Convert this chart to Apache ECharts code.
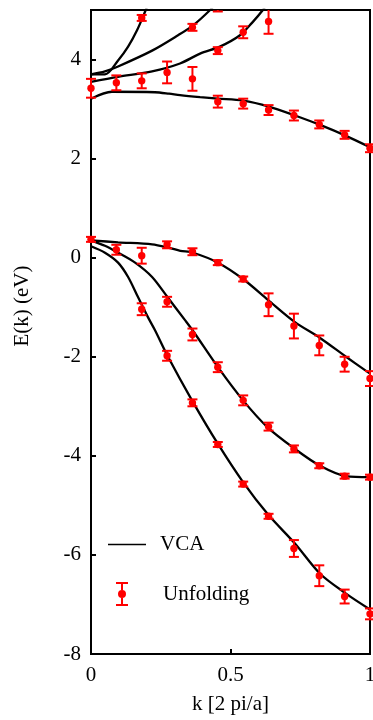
<!DOCTYPE html>
<html><head><meta charset="utf-8">
<script src="https://cdn.jsdelivr.net/npm/echarts@6/dist/echarts.min.js"></script>
<style>html,body{margin:0;padding:0;background:#fff}#c{width:373px;height:720px}</style>
</head><body><div id="c"></div>
<script>
// Axis ticks
const xTicks = [0, 0.5, 1];
const yTicks = [-8, -6, -4, -2, 0, 2, 4];

// VCA bands: k values and energies (eV)
const vcaC4k = [0, 0.05, 0.097, 0.133, 0.165, 0.194, 0.21];
const vcaC4E = [3.70, 3.70, 3.98, 4.26, 4.59, 4.97, 5.2];
const vcaC3k = [0, 0.05, 0.097, 0.219, 0.312, 0.366, 0.427, 0.45];
const vcaC3E = [3.70, 3.76, 3.86, 4.18, 4.49, 4.69, 5.0, 5.15];
const vcaC2k = [0, 0.097, 0.219, 0.319, 0.391, 0.462, 0.534, 0.577, 0.616, 0.64];
const vcaC2E = [3.55, 3.65, 3.76, 3.92, 4.12, 4.26, 4.49, 4.74, 5.0, 5.2];
const vcaC1k = [0, 0.075, 0.229, 0.28, 0.319, 0.391, 0.455, 0.545, 0.638, 0.731, 0.821, 0.914, 1.0];
const vcaC1E = [3.21, 3.35, 3.34, 3.31, 3.28, 3.24, 3.21, 3.17, 3.05, 2.87, 2.68, 2.46, 2.23];
const vcaV1k = [0, 0.097, 0.219, 0.28, 0.32, 0.366, 0.455, 0.545, 0.634, 0.731, 0.821, 0.914, 1.0];
const vcaV1E = [0.35, 0.31, 0.27, 0.20, 0.14, 0.10, -0.10, -0.43, -0.85, -1.30, -1.62, -2.00, -2.34];
const vcaV2k = [0, 0.05, 0.097, 0.158, 0.219, 0.276, 0.337, 0.366, 0.455, 0.545, 0.634, 0.731, 0.821, 0.914, 1.0];
const vcaV2E = [0.35, 0.24, 0.10, -0.10, -0.39, -0.81, -1.26, -1.48, -2.21, -2.88, -3.43, -3.86, -4.20, -4.41, -4.43];
const vcaV3k = [0, 0.05, 0.097, 0.133, 0.168, 0.204, 0.229, 0.276, 0.364, 0.455, 0.545, 0.634, 0.731, 0.821, 0.914, 1.0];
const vcaV3E = [0.23, 0.10, -0.10, -0.39, -0.79, -1.20, -1.46, -2.00, -2.90, -3.76, -4.53, -5.18, -5.77, -6.38, -6.78, -7.10];

// Unfolding points: k grid and per-band energies / error half-widths
const unfK = [0, 0.0909, 0.1818, 0.2727, 0.3636, 0.4545, 0.5455, 0.6364, 0.7273, 0.8182, 0.9091, 1];
const unfC4E = [null, null, 4.84, null, null, null, null, null, null, null, null, null];
const unfC4Err = [null, null, 0.06, null, null, null, null, null, null, null, null, null];
const unfC3E = [null, null, null, null, 4.65, 5.12, null, null, null, null, null, null];
const unfC3Err = [null, null, null, null, 0.07, 0.15, null, null, null, null, null, null];
const unfC2E = [null, null, null, null, null, 4.18, 4.55, 4.77, null, null, null, null];
const unfC2Err = [null, null, null, null, null, 0.07, 0.12, 0.25, null, null, null, null];
const unfC1E = [3.42, 3.53, 3.57, 3.74, 3.61, 3.15, 3.11, 2.98, 2.87, 2.69, 2.48, 2.21];
const unfC1Err = [0.19, 0.15, 0.15, 0.22, 0.24, 0.12, 0.10, 0.10, 0.10, 0.08, 0.08, 0.08];
const unfV1E = [0.37, null, null, 0.26, 0.12, -0.10, -0.43, -0.95, -1.38, -1.77, -2.15, -2.44];
const unfV1Err = [0.05, null, null, 0.07, 0.07, 0.05, 0.05, 0.23, 0.25, 0.20, 0.15, 0.15];
const unfV2E = [null, 0.16, 0.04, -0.89, -1.55, -2.21, -2.88, -3.41, -3.86, -4.20, -4.41, -4.43];
const unfV2Err = [null, 0.10, 0.16, 0.10, 0.12, 0.10, 0.10, 0.08, 0.07, 0.05, 0.05, 0.05];
const unfV3E = [null, null, -1.04, -1.98, -2.93, -3.77, -4.57, -5.22, -5.87, -6.42, -6.84, -7.19];
const unfV3Err = [null, null, 0.12, 0.10, 0.07, 0.05, 0.05, 0.05, 0.17, 0.21, 0.14, 0.11];

const FONT = 'Liberation Serif';
const vcaBands = [[vcaC4k, vcaC4E], [vcaC3k, vcaC3E], [vcaC2k, vcaC2E], [vcaC1k, vcaC1E],
                  [vcaV1k, vcaV1E], [vcaV2k, vcaV2E], [vcaV3k, vcaV3E]];
const unfBands = [[unfC4E, unfC4Err], [unfC3E, unfC3Err], [unfC2E, unfC2Err], [unfC1E, unfC1Err],
                  [unfV1E, unfV1Err], [unfV2E, unfV2Err], [unfV3E, unfV3Err]];

const unfData = [];
unfBands.forEach(([E, Er]) => {
  E.forEach((v, i) => { if (v !== null) unfData.push([unfK[i], v, Er[i]]); });
});

const series = vcaBands.map(([k, E]) => ({
  name: 'VCA', type: 'line', smooth: 0.3, symbol: 'none', showSymbol: false, clip: true,
  data: k.map((kk, i) => [kk, E[i]]),
  lineStyle: { color: '#000', width: 2.3 }, itemStyle: { color: '#000' },
  z: 2
}));

series.push({
  name: 'Unfolding', type: 'custom', z: 3,
  itemStyle: { color: '#ff0000' },
  encode: { x: 0, y: 1 },
  data: unfData,
  renderItem(params, api) {
    const x = api.value(0), y = api.value(1), e = api.value(2);
    const p = api.coord([x, y]);
    const hi = api.coord([x, y + e]);
    const lo = api.coord([x, y - e]);
    const top = params.coordSys.y;
    const hw = 5;
    const st = { stroke: '#ff0000', lineWidth: 2 };
    const ch = [];
    ch.push({ type: 'line', shape: { x1: p[0], y1: Math.max(hi[1], top), x2: p[0], y2: lo[1] }, style: st });
    if (hi[1] >= top) ch.push({ type: 'line', shape: { x1: p[0] - hw, y1: hi[1], x2: p[0] + hw, y2: hi[1] }, style: st });
    ch.push({ type: 'line', shape: { x1: p[0] - hw, y1: lo[1], x2: p[0] + hw, y2: lo[1] }, style: st });
    if (p[1] >= top) ch.push({ type: 'circle', shape: { cx: p[0], cy: p[1], r: 3.7 }, style: { fill: '#ff0000' } });
    return { type: 'group', children: ch };
  }
});

const errIcon = 'path://M0,0 H12 V2 H7 V8 H5 V2 H0 Z M5,16 H7 V22 H12 V24 H0 V22 H5 Z M2,12 A4,4 0 1,1 10,12 A4,4 0 1,1 2,12 Z';
const lineIcon = 'path://M0,0 H38 V1.4 H0 Z';

const chart = echarts.init(document.getElementById('c'), null, { renderer: 'canvas' });
chart.setOption({
  animation: false,
  backgroundColor: '#fff',
  grid: { left: 91, top: 10, width: 279, height: 644, show: true, borderColor: '#000', borderWidth: 2,
          backgroundColor: 'transparent', containLabel: false, outerBoundsMode: 'none' },
  legend: [
    { data: [{ name: 'VCA', icon: lineIcon }], left: 108, top: 534, padding: 0, itemWidth: 38, itemHeight: 24,
      itemStyle: { color: '#000' },
      textStyle: { fontFamily: FONT, fontSize: 21, color: '#000', padding: [0, 0, 0, 9] } },
    { data: [{ name: 'Unfolding', icon: errIcon }], left: 116, top: 582, padding: 0, itemWidth: 12, itemHeight: 24,
      textStyle: { fontFamily: FONT, fontSize: 21, color: '#000', padding: [0, 0, 0, 30] } }
  ],
  xAxis: {
    type: 'value', min: 0, max: 1, interval: 0.5,
    name: 'k [2 pi/a]', nameLocation: 'middle', nameGap: 40,
    nameTextStyle: { fontFamily: FONT, fontSize: 21, color: '#000' },
    axisLine: { show: true, onZero: false, lineStyle: { color: '#000', width: 2 } },
    axisTick: { show: true, inside: true, length: 5, lineStyle: { color: '#000', width: 2 } },
    axisLabel: { fontFamily: FONT, fontSize: 21, color: '#000', margin: 11,
      formatter: v => (xTicks.includes(v) ? String(v) : '') },
    splitLine: { show: false }
  },
  yAxis: {
    type: 'value', min: -8, max: 5, interval: 2,
    axisLine: { show: true, onZero: false, lineStyle: { color: '#000', width: 2 } },
    axisTick: { show: true, inside: true, length: 5, lineStyle: { color: '#000', width: 2 } },
    axisLabel: { fontFamily: FONT, fontSize: 21, color: '#000', margin: 10,
      formatter: v => (yTicks.includes(v) ? String(v) : '') },
    splitLine: { show: false }
  },
  graphic: [{
    type: 'text', x: 22, y: 306, rotation: Math.PI / 2,
    style: { text: 'E(k) (eV)', font: '21px "Liberation Serif"', fill: '#000', textAlign: 'center', textVerticalAlign: 'middle' }
  }],
  series
});
</script>
</body></html>
